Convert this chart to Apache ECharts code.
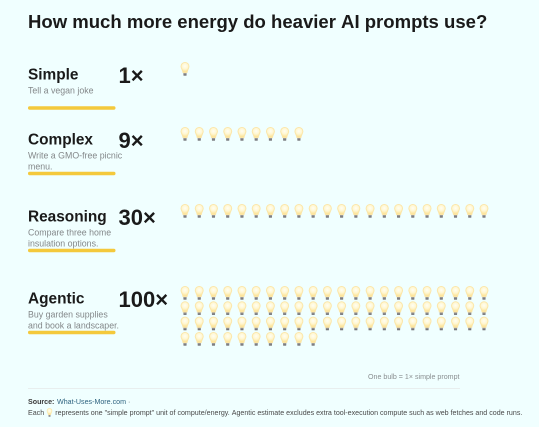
<!DOCTYPE html>
<html><head><meta charset="utf-8">
<style>html,body{margin:0;padding:0;background:#f0ffff}#c{width:539px;height:427px;filter:blur(.35px)}</style>
<script src="https://cdn.jsdelivr.net/npm/echarts@6/dist/echarts.min.js"></script>
</head><body><div id="c"></div>
<script>
const categories = ['Simple','Complex','Reasoning','Agentic'];
const prompts = [['Tell a vegan joke'],['Write a GMO-free picnic','menu.'],['Compare three home','insulation options.'],['Buy garden supplies','and book a landscaper.']];
const multipliers = ['1×','9×','30×','100×'];
const bulbsShown = [1,9,22,76];
const columns = 22;
const FONT = '"Liberation Sans", Arial, sans-serif';
const groupTop = [69,134,211,293];
const labelY = [75,140,217,299];
const multY = [77,142,219,301];
const subY = [91,156,233,315];
const barY = [108,173.5,250.5,332.5];

function points(n){const a=[];for(let i=0;i<n;i++)a.push([i%columns,Math.floor(i/columns)]);return a;}
function bulb(cx,cy,s){
  return {type:'group',x:cx,y:cy,scaleX:s,scaleY:s,children:[
    {type:'path',shape:{pathData:'M-1.7 3.6 L1.7 3.6 L1.5 6.6 L-1.5 6.6 Z',x:-1.7,y:3.6,width:3.4,height:3},
      style:{fill:{type:'linear',x:0,y:0,x2:0,y2:1,colorStops:[{offset:0,color:'#b5b3ae'},{offset:1,color:'#606066'}]}}},
    {type:'path',shape:{pathData:'M-4 -2.6 A4 4 0 1 1 4 -2.6 C4 -0.6 2.3 0.8 2 3.6 L-2 3.6 C-2.3 0.8 -4 -0.6 -4 -2.6 Z',x:-4,y:-6.6,width:8,height:10.2},
      style:{fill:{type:'radial',x:0.5,y:0.38,r:0.6,colorStops:[{offset:0,color:'#fffef4'},{offset:0.55,color:'#fff7d2'},{offset:1,color:'#fde59c'}]},stroke:'#fce6a8',lineWidth:0.9}}
  ]};
}
const grids=[],xAxes=[],yAxes=[],series=[];
categories.forEach((c,i)=>{
  grids.push({left:185,width:299,top:groupTop[i],height:46});
  xAxes.push({type:'value',gridIndex:i,min:0,max:columns-1,show:false});
  yAxes.push({type:'value',gridIndex:i,min:0,max:3,inverse:true,show:false});
  series.push({type:'custom',name:c,xAxisIndex:i,yAxisIndex:i,coordinateSystem:'cartesian2d',clip:false,silent:true,
    data:points(bulbsShown[i]),
    renderItem:(p,api)=>{const q=api.coord([api.value(0),api.value(1)]);return bulb(q[0],q[1],1);}});
});
series.push({type:'custom',name:'key',coordinateSystem:'none',silent:true,data:[[0]],renderItem:()=>bulb(49.5,412.5,0.62)});
const t=(text,x,y,fs,fw,fill,extra)=>({type:'text',x,y,style:Object.assign({text,fontFamily:FONT,fontSize:fs,fontWeight:fw,fill,verticalAlign:'middle'},extra||{})});
const g=[t('How much more energy do heavier AI prompts use?',28,23,18.55,'bold','#1a1a1a')];
categories.forEach((c,i)=>{
  g.push(t(c,28,labelY[i],15.4,'bold','#1a1a1a'));
  g.push(t(multipliers[i],118.5,multY[i],22,'bold','#1a1a1a'));
  prompts[i].forEach((s,k)=>g.push(t(s,28,subY[i]+k*11,8.8,'normal','#84888a')));
  g.push({type:'rect',shape:{x:28,y:barY[i]-1.7,width:87.5,height:3.4,r:1.7},style:{fill:'#f4c93c'}});
});
g.push(t('One bulb = 1× simple prompt',459.5,377,7.1,'normal','#8a8f91',{align:'right'}));
g.push({type:'line',shape:{x1:28,y1:388.5,x2:460,y2:388.5},style:{stroke:'#e8eeee',lineWidth:1}});
g.push(t('Source:',28,402,7.1,'bold','#3c3c3c'));
g.push(t('What-Uses-More.com',57,402,7.1,'normal','#2f6480'));
g.push(t('·',128,402,7.1,'normal','#666'));
g.push(t('Each',28,413,7.1,'normal','#4a4a4a'));
g.push(t('represents one "simple prompt" unit of compute/energy. Agentic estimate excludes extra tool-execution compute such as web fetches and code runs.',55.3,413,7.1,'normal','#4a4a4a'));

const chart=echarts.init(document.getElementById('c'),null,{renderer:'canvas',devicePixelRatio:2});
chart.setOption({animation:false,backgroundColor:'#f0ffff',grid:grids,xAxis:xAxes,yAxis:yAxes,series,graphic:{elements:g}});
</script></body></html>
